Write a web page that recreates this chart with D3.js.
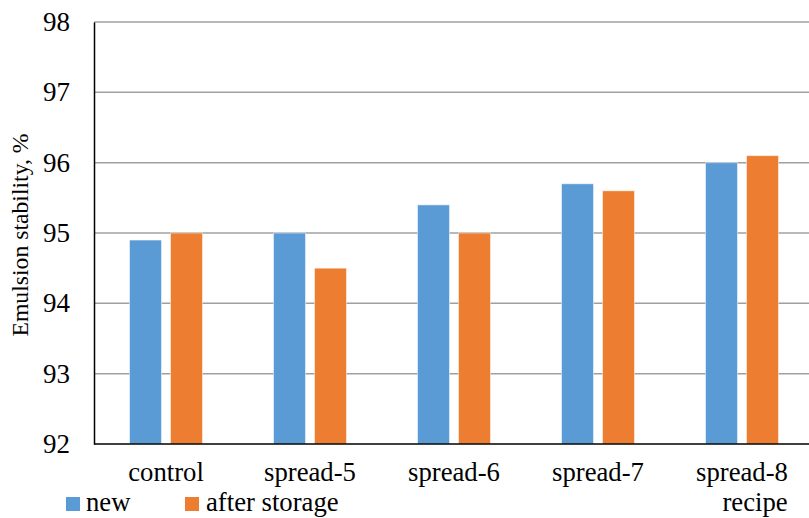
<!DOCTYPE html>
<html><head><meta charset="utf-8">
<script src="https://cdn.jsdelivr.net/npm/d3@7"></script>
<style>body{margin:0;background:#fff}svg text{font-family:'Liberation Serif','Times New Roman',Times,serif !important}</style>
</head><body><svg id="c" width="809" height="518"></svg>
<script>
const categories = ["control","spread-5","spread-6","spread-7","spread-8"];
const seriesNames = ["new","after storage"];
const newValues = [94.9,95.0,95.4,95.7,96.0];
const storageValues = [95.0,94.5,95.0,95.6,96.1];
const yTicks = [92,93,94,95,96,97,98];
const colors = ["#5B9BD5","#ED7D31"];

const svg = d3.select("#c");
const m = {l:94, t:22, r:-5, b:74};
const W = 809, H = 518;
const x = d3.scaleBand().domain(categories).range([m.l, W - m.r]).paddingInner(0).paddingOuter(0);
const y = d3.scaleLinear().domain([92,98]).range([H - m.b, m.t]);
const x1 = d3.scaleBand().domain(seriesNames).range([0, 73]).paddingInner(0.22);

svg.append("g").selectAll("line").data(yTicks.slice(1)).join("line")
  .attr("x1", m.l).attr("x2", W).attr("y1", d=>y(d)).attr("y2", d=>y(d))
  .attr("stroke","#a0a0a0").attr("stroke-width",1.5);

const data = categories.map((c,i)=>({c, vals:[newValues[i], storageValues[i]]}));
const g = svg.append("g").selectAll("g").data(data).join("g")
  .attr("transform", d=>`translate(${x(d.c) + x.bandwidth()/2 - 36.5},0)`);
g.selectAll("rect").data(d=>d.vals.map((v,j)=>({v, s:seriesNames[j], j}))).join("rect")
  .attr("x", d=>x1(d.s)).attr("width", x1.bandwidth())
  .attr("y", d=>y(d.v)).attr("height", d=>y(92)-y(d.v))
  .attr("fill", d=>colors[d.j]).attr("stroke","#fff").attr("stroke-opacity",0.5).attr("stroke-width",1);

const yAxis = d3.axisLeft(y).tickValues(yTicks).tickSize(0).tickPadding(24).tickFormat(d3.format("d"));
const ya = svg.append("g").attr("transform",`translate(${m.l},0)`).call(yAxis).attr("font-family",null);
ya.select(".domain").attr("stroke","#000").attr("stroke-width",1.5);
ya.selectAll("text").attr("font-size",27).attr("fill","#000");

const xAxis = d3.axisBottom(x).tickSize(0).tickPadding(18);
const xa = svg.append("g").attr("transform",`translate(0,${y(92)})`).call(xAxis).attr("font-family",null);
xa.select(".domain").attr("stroke","#000").attr("stroke-width",1.5).attr("d",`M${m.l},0H${W}`);
xa.selectAll("text").attr("font-size",26.7).attr("fill","#000");

svg.append("text").attr("transform",`translate(28,235) rotate(-90)`)
  .attr("text-anchor","middle").attr("font-size",23.7).text("Emulsion stability, %");

svg.append("text").attr("x", 755).attr("y", 511).attr("text-anchor","middle").attr("font-size",26.7).text("recipe");

const leg = [{x:66, tx:86},{x:185, tx:206}];
seriesNames.forEach((s,i)=>{
  svg.append("rect").attr("x",leg[i].x).attr("y",497).attr("width",14).attr("height",14).attr("fill",colors[i]);
  svg.append("text").attr("x",leg[i].tx).attr("y",511).attr("font-size",26.7).text(s);
});
</script></body></html>
